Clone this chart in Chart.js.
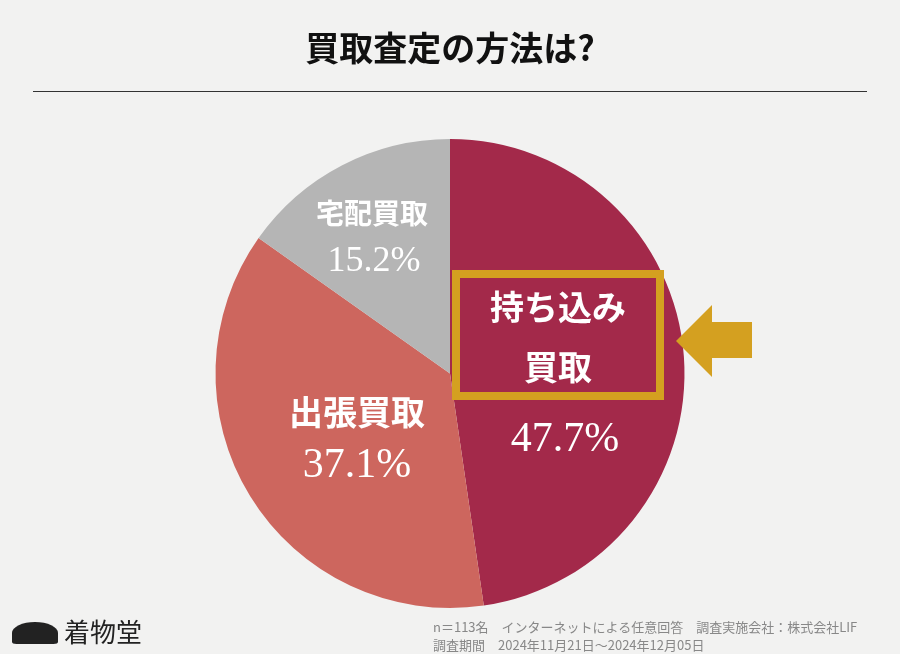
<!DOCTYPE html>
<html><head><meta charset="utf-8">
<script src="https://cdn.jsdelivr.net/npm/chart.js@4"></script>
<style>
body{margin:0;width:900px;height:654px;background:#F2F2F1;overflow:hidden;position:relative;font-family:"Noto Sans CJK JP",sans-serif}
#c{position:absolute;left:0;top:0}
.t{position:absolute;white-space:nowrap;transform:translate(-50%,-50%);color:#fff;font-weight:bold}
.s{font-family:"Liberation Serif","DejaVu Serif",serif;font-weight:normal}
</style></head><body>
<canvas id="c" width="900" height="654"></canvas>
<div class="t" style="left:450px;top:46px;color:#111;font-size:34px;">買取査定の方法は?</div>
<div style="position:absolute;left:33px;top:91px;width:834px;height:1px;background:#333"></div>
<div style="position:absolute;left:452px;top:270px;width:196px;height:114px;border:8px solid #D4A020"></div>
<div class="t" style="left:558px;top:305px;font-size:34px;">持ち込み</div>
<div class="t" style="left:558px;top:365px;font-size:34px;">買取</div>
<div class="t s" style="left:565px;top:437px;font-size:42px;">47.7%</div>
<div class="t" style="left:372px;top:212px;font-size:28px;">宅配買取</div>
<div class="t s" style="left:374px;top:259px;font-size:36px;">15.2%</div>
<div class="t" style="left:357px;top:410px;font-size:34px;">出張買取</div>
<div class="t s" style="left:357px;top:463px;font-size:42px;">37.1%</div>
<div style="position:absolute;left:433px;top:618px;font-size:13px;color:#888;line-height:18px;white-space:nowrap">n＝113名　インターネットによる任意回答　調査実施会社：株式会社LIF<br>調査期間　2024年11月21日～2024年12月05日</div>
<div style="position:absolute;left:12px;top:622px;width:46px;height:22px;border-radius:50% 50% 10% 10%;background:#222"></div>
<div style="position:absolute;left:64px;top:612px;font-size:26px;color:#222;white-space:nowrap">着物堂</div>
<script>
const categories=["持ち込み買取","出張買取","宅配買取"];
const values=[47.7,37.1,15.2];
const colors=["#A3294A","#CD665E","#B5B5B5"];
const arrow={id:'arrow',afterDraw(ch){const c=ch.ctx;c.save();c.fillStyle='#D4A020';c.beginPath();
c.moveTo(676,341);c.lineTo(712,305);c.lineTo(712,322);c.lineTo(752,322);c.lineTo(752,358);c.lineTo(712,358);c.lineTo(712,377);c.closePath();c.fill();c.restore();}};
new Chart(document.getElementById('c'),{type:'pie',
data:{labels:categories,datasets:[{data:values,backgroundColor:colors,borderWidth:0}]},
options:{responsive:false,animation:false,layout:{padding:{top:139,bottom:46,left:0,right:0}},
plugins:{legend:{display:false},tooltip:{enabled:false}}},plugins:[arrow]});
</script></body></html>
